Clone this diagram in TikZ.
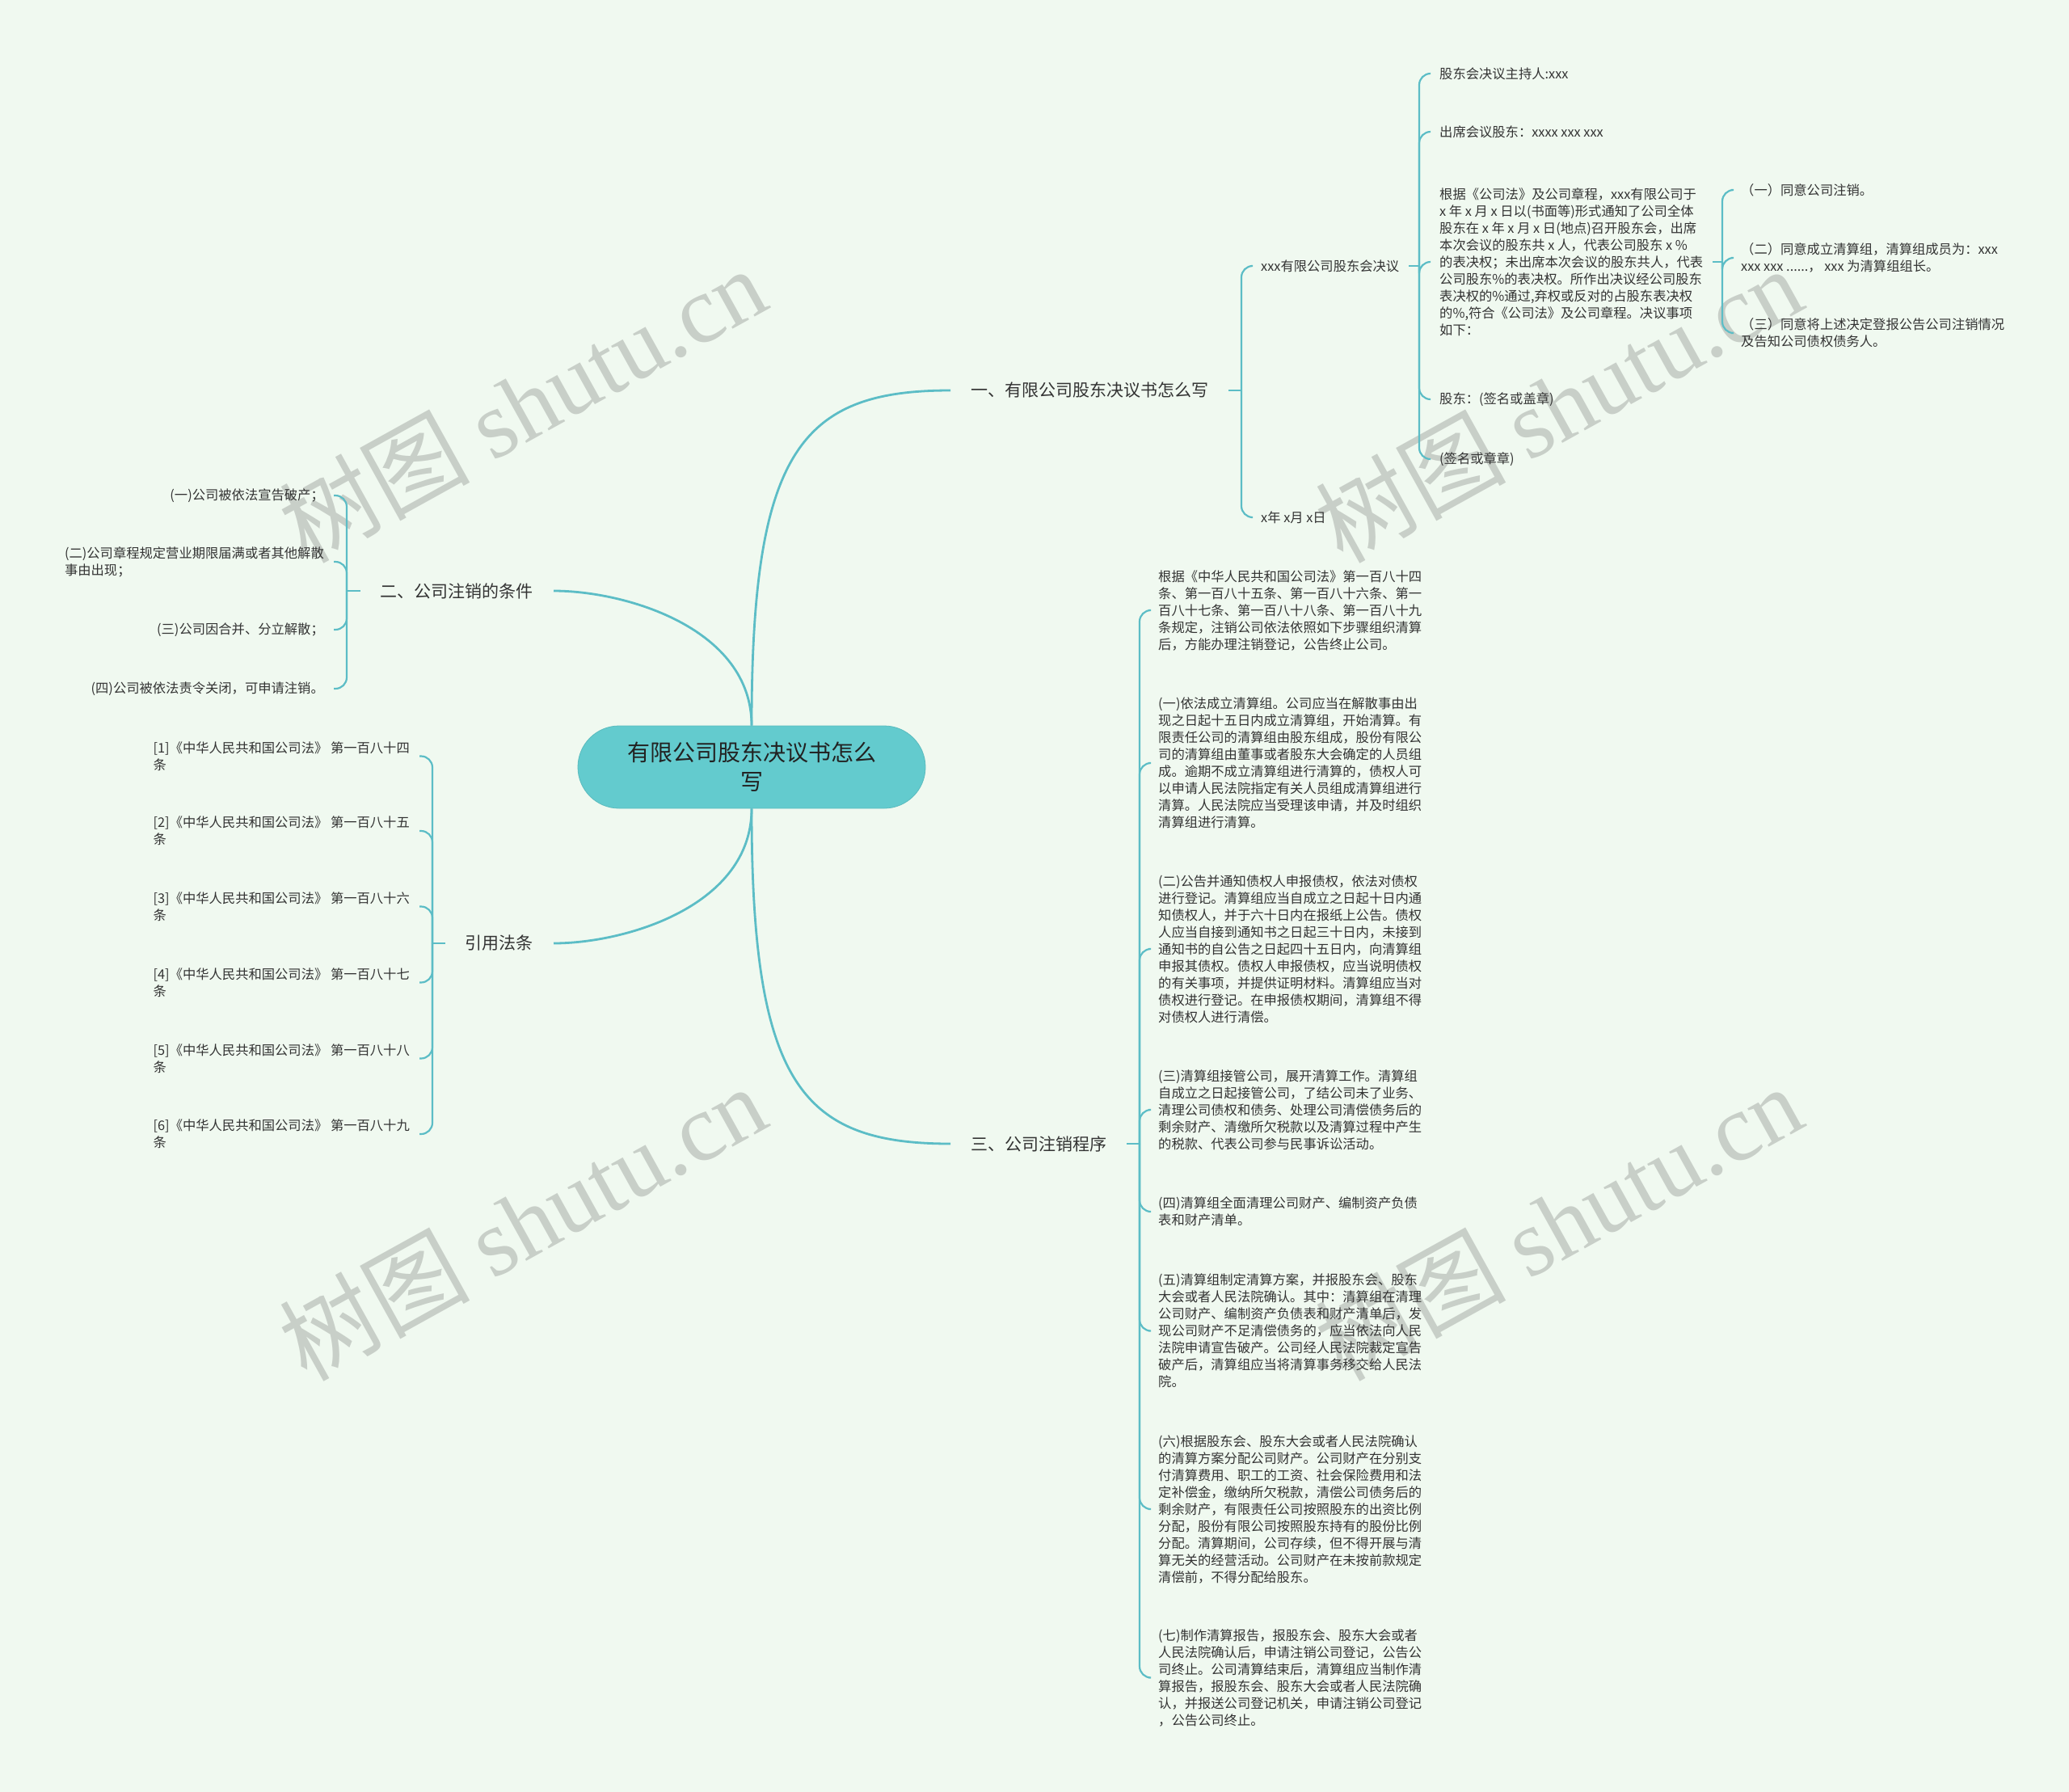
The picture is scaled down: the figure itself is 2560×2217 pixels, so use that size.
\documentclass[tikz,border=0pt]{standalone}
\usepackage{fontspec}
\setmainfont{Noto Sans CJK SC}
\newfontfamily\wmserif{Liberation Serif}
\definecolor{bg}{HTML}{F0F9F0}
\definecolor{ln}{HTML}{5CBDC6}
\definecolor{ctr}{HTML}{63CBCE}
\definecolor{txt}{HTML}{333333}
\definecolor{txtc}{HTML}{222222}
\definecolor{wmc}{HTML}{C8CFC8}
\begin{document}
\begin{tikzpicture}[x=1pt,y=-1pt,
  conn/.style={draw=ln, line width=2.2pt, rounded corners=14pt},
  mainconn/.style={draw=ln, line width=2.8pt},
  lvl/.style={font=\fontsize{21}{26}\selectfont, text=txt, inner xsep=25pt, inner ysep=4pt},
  leaf/.style={font=\fontsize{16.3}{21}\selectfont, text=txt, inner xsep=12pt, inner ysep=2pt, align=left},
  wm/.style={font=\fontsize{118}{118}\selectfont, text=wmc, rotate=29, inner sep=0pt},
]
\fill[bg] (0,0) rectangle (2560,2217);
\useasboundingbox (0,0) rectangle (2560,2217);

% watermarks
\node[wm] (wm1) at (646,500) {树图 {\wmserif shutu.cn}};
\node[wm] (wm2) at (1928,500) {树图 {\wmserif shutu.cn}};
\node[wm] (wm3) at (646,1512) {树图 {\wmserif shutu.cn}};
\node[wm] (wm4) at (1928,1512) {树图 {\wmserif shutu.cn}};

% central
\node[fill=ctr, draw=ctr!92!black, line width=0.8pt, rounded corners=51pt, minimum width=430pt, minimum height=102pt,
      align=center, font=\fontsize{28}{36}\selectfont, text=txtc] (c) at (930,949) {有限公司股东决议书怎么\\写};

% level 1
\node[lvl, anchor=west] (n1) at (1176,483) {一、有限公司股东决议书怎么写};
\node[lvl, anchor=east] (n2) at (685,731) {二、公司注销的条件};
\node[lvl, anchor=east] (n3) at (685,1167) {引用法条};
\node[lvl, anchor=west] (n4) at (1176,1415) {三、公司注销程序};

\draw[mainconn] (c.north) .. controls +(0,-340) and +(-185,0) .. (n1.west);
\draw[mainconn] (c.north) .. controls +(0,-120) and +(90,0) .. (n2.east);
\draw[mainconn] (c.south) .. controls +(0,120) and +(90,0) .. (n3.east);
\draw[mainconn] (c.south) .. controls +(0,340) and +(-185,0) .. (n4.west);

% ---- branch 一
\node[leaf, anchor=west] (a1) at (1548,329) {xxx有限公司股东会决议};
\node[leaf, anchor=west] (a2) at (1548,640) {x年 x月 x日};
\coordinate (j1) at (1536,483);
\draw[conn] (n1.east) -- (j1);
\draw[conn] (j1) |- (a1.west);
\draw[conn] (j1) |- (a2.west);

\node[leaf, anchor=west] (b1) at (1769,91) {股东会决议主持人:xxx};
\node[leaf, anchor=west] (b2) at (1769,163) {出席会议股东：xxxx xxx xxx};
\node[leaf, anchor=west] (b3) at (1769,324) {根据《公司法》及公司章程，xxx有限公司于\\x 年 x 月 x 日以(书面等)形式通知了公司全体\\股东在 x 年 x 月 x 日(地点)召开股东会，出席\\本次会议的股东共 x 人，代表公司股东 x \%\\的表决权；未出席本次会议的股东共人，代表\\公司股东\%的表决权。所作出决议经公司股东\\表决权的\%通过,弃权或反对的占股东表决权\\的\%,符合《公司法》及公司章程。决议事项\\如下：};
\node[leaf, anchor=west] (b4) at (1769,494) {股东：(签名或盖章)};
\node[leaf, anchor=west] (b5) at (1769,568) {(签名或章章)};
\coordinate (j2) at (1756,329);
\draw[conn] (a1.east) -- (j2);
\foreach \k in {b1,b2,b3,b4,b5} \draw[conn] (j2) |- (\k.west);

\node[leaf, anchor=west] (c1) at (2142,235) {（一）同意公司注销。};
\node[leaf, anchor=west] (c2) at (2142,319) {（二）同意成立清算组，清算组成员为：xxx\\xxx xxx ......，\ xxx 为清算组组长。};
\node[leaf, anchor=west] (c3) at (2142,412) {（三）同意将上述决定登报公告公司注销情况\\及告知公司债权债务人。};
\coordinate (j3) at (2131,324);
\draw[conn] (b3.east) -- (j3);
\foreach \k in {c1,c2,c3} \draw[conn] (j3) |- (\k.west);

% ---- branch 二
\node[leaf, anchor=east] (d1) at (413,613) {(一)公司被依法宣告破产；};
\node[leaf, anchor=east] (d2) at (413,695) {(二)公司章程规定营业期限届满或者其他解散\\事由出现；};
\node[leaf, anchor=east] (d3) at (413,779) {(三)公司因合并、分立解散；};
\node[leaf, anchor=east] (d4) at (413,852) {(四)公司被依法责令关闭，可申请注销。};
\coordinate (j4) at (429,731);
\draw[conn] (n2.west) -- (j4);
\foreach \k in {d1,d2,d3,d4} \draw[conn] (j4) |- (\k.east);

% ---- 引用法条
\node[leaf, anchor=east] (e1) at (519,935.5) {[1]《中华人民共和国公司法》 第一百八十四\\条};
\node[leaf, anchor=east] (e2) at (519,1028) {[2]《中华人民共和国公司法》 第一百八十五\\条};
\node[leaf, anchor=east] (e3) at (519,1121.5) {[3]《中华人民共和国公司法》 第一百八十六\\条};
\node[leaf, anchor=east] (e4) at (519,1215.5) {[4]《中华人民共和国公司法》 第一百八十七\\条};
\node[leaf, anchor=east] (e5) at (519,1309.5) {[5]《中华人民共和国公司法》 第一百八十八\\条};
\node[leaf, anchor=east] (e6) at (519,1403) {[6]《中华人民共和国公司法》 第一百八十九\\条};
\coordinate (j5) at (535,1167);
\draw[conn] (n3.west) -- (j5);
\foreach \k in {e1,e2,e3,e4,e5,e6} \draw[conn] (j5) |- (\k.east);

% ---- branch 三
\node[leaf, anchor=west] (f0) at (1421,755) {根据《中华人民共和国公司法》第一百八十四\\条、第一百八十五条、第一百八十六条、第一\\百八十七条、第一百八十八条、第一百八十九\\条规定，注销公司依法依照如下步骤组织清算\\后，方能办理注销登记，公告终止公司。};
\node[leaf, anchor=west] (f1) at (1421,944) {(一)依法成立清算组。公司应当在解散事由出\\现之日起十五日内成立清算组，开始清算。有\\限责任公司的清算组由股东组成，股份有限公\\司的清算组由董事或者股东大会确定的人员组\\成。逾期不成立清算组进行清算的，债权人可\\以申请人民法院指定有关人员组成清算组进行\\清算。人民法院应当受理该申请，并及时组织\\清算组进行清算。};
\node[leaf, anchor=west] (f2) at (1421,1174) {(二)公告并通知债权人申报债权，依法对债权\\进行登记。清算组应当自成立之日起十日内通\\知债权人，并于六十日内在报纸上公告。债权\\人应当自接到通知书之日起三十日内，未接到\\通知书的自公告之日起四十五日内，向清算组\\申报其债权。债权人申报债权，应当说明债权\\的有关事项，并提供证明材料。清算组应当对\\债权进行登记。在申报债权期间，清算组不得\\对债权人进行清偿。};
\node[leaf, anchor=west] (f3) at (1421,1373) {(三)清算组接管公司，展开清算工作。清算组\\自成立之日起接管公司，了结公司未了业务、\\清理公司债权和债务、处理公司清偿债务后的\\剩余财产、清缴所欠税款以及清算过程中产生\\的税款、代表公司参与民事诉讼活动。};
\node[leaf, anchor=west] (f4) at (1421,1499) {(四)清算组全面清理公司财产、编制资产负债\\表和财产清单。};
\node[leaf, anchor=west] (f5) at (1421,1646.5) {(五)清算组制定清算方案，并报股东会、股东\\大会或者人民法院确认。其中：清算组在清理\\公司财产、编制资产负债表和财产清单后，发\\现公司财产不足清偿债务的，应当依法向人民\\法院申请宣告破产。公司经人民法院裁定宣告\\破产后，清算组应当将清算事务移交给人民法\\院。};
\node[leaf, anchor=west] (f6) at (1421,1867) {(六)根据股东会、股东大会或者人民法院确认\\的清算方案分配公司财产。公司财产在分别支\\付清算费用、职工的工资、社会保险费用和法\\定补偿金，缴纳所欠税款，清偿公司债务后的\\剩余财产，有限责任公司按照股东的出资比例\\分配，股份有限公司按照股东持有的股份比例\\分配。清算期间，公司存续，但不得开展与清\\算无关的经营活动。公司财产在未按前款规定\\清偿前，不得分配给股东。};
\node[leaf, anchor=west] (f7) at (1421,2075.5) {(七)制作清算报告，报股东会、股东大会或者\\人民法院确认后，申请注销公司登记，公告公\\司终止。公司清算结束后，清算组应当制作清\\算报告，报股东会、股东大会或者人民法院确\\认，并报送公司登记机关，申请注销公司登记\\，公告公司终止。};
\coordinate (j6) at (1410,1415);
\draw[conn] (n4.east) -- (j6);
\foreach \k in {f0,f1,f2,f3,f4,f5,f6,f7} \draw[conn] (j6) |- (\k.west);
\end{tikzpicture}
\end{document}
